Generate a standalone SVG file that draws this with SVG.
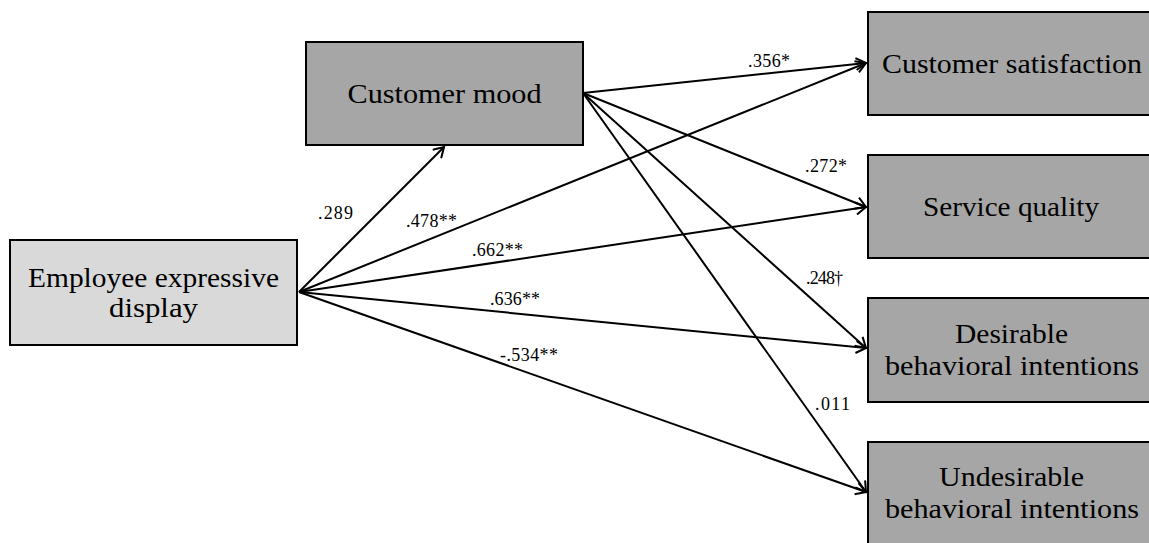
<svg xmlns="http://www.w3.org/2000/svg" width="1149" height="543" viewBox="0 0 1149 543">
<defs>
<style>
.box{stroke:#000;stroke-width:2}
.light{fill:#d9d9d9}
.dark{fill:#a6a6a6}
.nt{font-family:"Liberation Serif","Times New Roman",serif;font-size:27px;fill:#000;text-anchor:middle}
.lb{font-family:"Liberation Serif","Times New Roman",serif;font-size:18px;fill:#000}
.edge{stroke:#000;stroke-width:2;fill:none;marker-end:url(#arr)}
</style>
<marker id="arr" markerUnits="userSpaceOnUse" markerWidth="14" markerHeight="14" viewBox="-12 -7 14 14" refX="0" refY="0" orient="auto">
<path d="M-10,-6 L0,0 L-10,6" fill="none" stroke="#000" stroke-width="2"/>
</marker>
</defs>
<rect width="1149" height="543" fill="#fff"/>
<g id="connectors">
<line class="edge" x1="299" y1="292" x2="444" y2="147"/>
<line class="edge" x1="299" y1="292" x2="866" y2="63"/>
<line class="edge" x1="299" y1="292" x2="866" y2="207"/>
<line class="edge" x1="299" y1="292" x2="866" y2="348"/>
<line class="edge" x1="299" y1="292" x2="866" y2="492"/>
<line class="edge" x1="583" y1="93" x2="866" y2="63"/>
<line class="edge" x1="583" y1="93" x2="866" y2="207"/>
<line class="edge" x1="583" y1="93" x2="866" y2="348"/>
<line class="edge" x1="583" y1="93" x2="866" y2="492"/>
</g>
<g id="labels">
<text class="lb" x="318" y="219" textLength="35">.289</text>
<text class="lb" x="406" y="227" textLength="51">.478**</text>
<text class="lb" x="472" y="256" textLength="51">.662**</text>
<text class="lb" x="490" y="305" textLength="50">.636**</text>
<text class="lb" x="500" y="361" textLength="58">-.534**</text>
<text class="lb" x="748" y="67" textLength="42">.356*</text>
<text class="lb" x="805" y="172" textLength="42">.272*</text>
<text class="lb" x="806" y="284" textLength="37">.248†</text>
<text class="lb" x="815" y="410" textLength="35">.011</text>
</g>
<g id="employee">
<rect class="box light" x="10" y="240" width="287" height="105"/>
<text class="nt" x="153.5" y="287" textLength="251" lengthAdjust="spacingAndGlyphs">Employee expressive</text>
<text class="nt" x="153.5" y="317" textLength="89" lengthAdjust="spacingAndGlyphs">display</text>
</g>
<g id="mood">
<rect class="box dark" x="306" y="42" width="277" height="103"/>
<text class="nt" x="444.5" y="103" textLength="194" lengthAdjust="spacingAndGlyphs">Customer mood</text>
</g>
<g id="satisfaction">
<rect class="box dark" x="868" y="12" width="290" height="103"/>
<text class="nt" x="1012" y="73" textLength="260" lengthAdjust="spacingAndGlyphs">Customer satisfaction</text>
</g>
<g id="service">
<rect class="box dark" x="868" y="155" width="290" height="103"/>
<text class="nt" x="1011" y="216" textLength="176" lengthAdjust="spacingAndGlyphs">Service quality</text>
</g>
<g id="desirable">
<rect class="box dark" x="868" y="298" width="290" height="104"/>
<text class="nt" x="1011.5" y="343" textLength="113" lengthAdjust="spacingAndGlyphs">Desirable</text>
<text class="nt" x="1012" y="375" textLength="254" lengthAdjust="spacingAndGlyphs">behavioral intentions</text>
</g>
<g id="undesirable">
<rect class="box dark" x="868" y="442" width="290" height="110"/>
<text class="nt" x="1011.5" y="486" textLength="145" lengthAdjust="spacingAndGlyphs">Undesirable</text>
<text class="nt" x="1012" y="518" textLength="254" lengthAdjust="spacingAndGlyphs">behavioral intentions</text>
</g>
</svg>
